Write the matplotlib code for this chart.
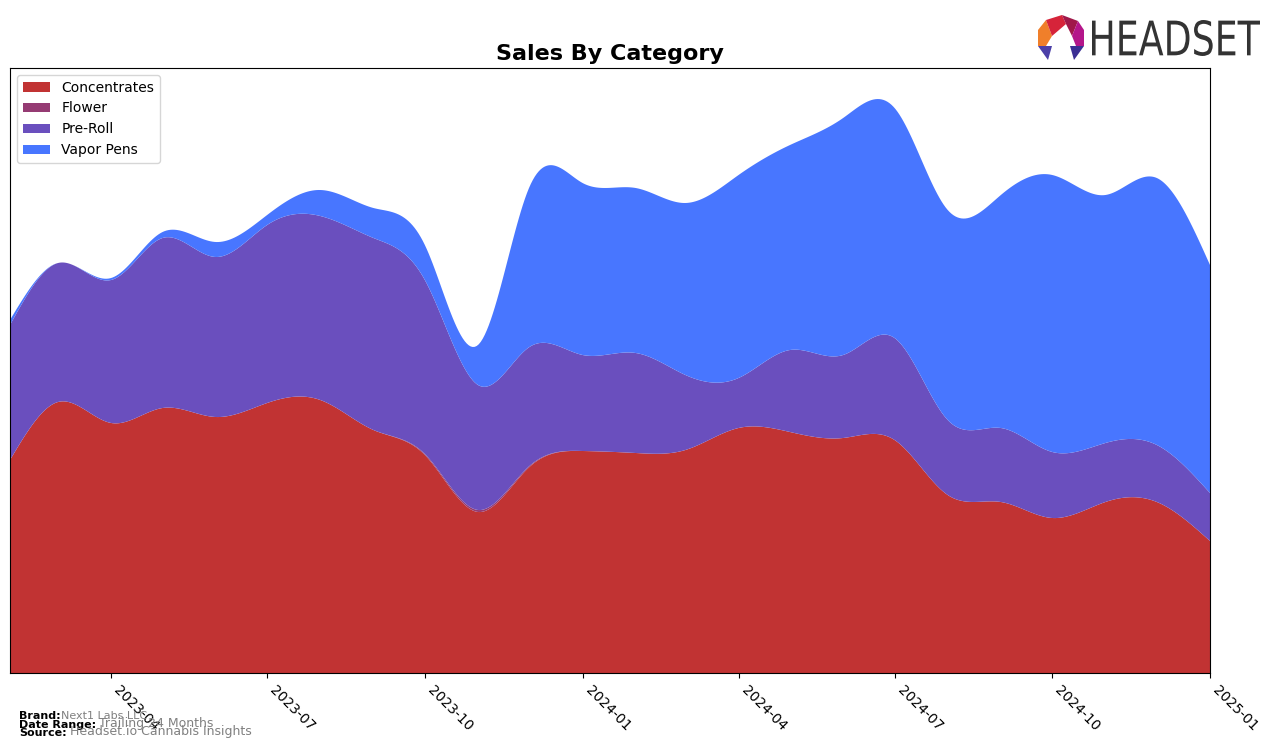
import numpy as np
import pandas as pd
import matplotlib
matplotlib.use("Agg")
import matplotlib.pyplot as plt
import matplotlib.dates as mdates
from matplotlib.patches import Polygon, PathPatch
from matplotlib.textpath import TextPath
from matplotlib.font_manager import FontProperties
from matplotlib.transforms import Affine2D

# monthly sales (arbitrary units)
months = pd.date_range("2023-02-01", "2025-01-01", freq="MS")
concentrates = [213, 271, 250, 265, 256, 270, 273, 243, 218, 161, 206, 222,
                220, 223, 245, 241, 235, 233, 178, 171, 155, 171, 171, 132]
flower = [0, 0, 0, 0, 0, 0, 0, 0, 1, 2, 1, 0,
          0, 0, 0, 0, 0, 0, 0, 0, 0, 0, 0, 0]
pre_roll = [135, 139, 143, 170, 160, 178, 184, 192, 174, 125, 119, 96,
            100, 75, 50, 82, 83, 102, 75, 74, 66, 59, 57, 48]
vapor_pens = [5, 0, 2, 6, 15, 10, 26, 30, 35, 40, 160, 172,
              165, 172, 203, 205, 237, 230, 210, 233, 277, 248, 267, 228]

labels = ["Concentrates", "Flower", "Pre-Roll", "Vapor Pens"]
colors = ["#c13333", "#953b73", "#6a4fbe", "#4876ff"]


def natural_spline(x, y, xs):
    # plain natural cubic spline, just for smooth display
    x = np.asarray(x, float)
    y = np.asarray(y, float)
    n = len(x)
    h = np.diff(x)
    A = np.zeros((n, n))
    b = np.zeros(n)
    A[0, 0] = 1
    A[-1, -1] = 1
    for i in range(1, n - 1):
        A[i, i - 1] = h[i - 1]
        A[i, i] = 2 * (h[i - 1] + h[i])
        A[i, i + 1] = h[i]
        b[i] = 3 * ((y[i + 1] - y[i]) / h[i] - (y[i] - y[i - 1]) / h[i - 1])
    c = np.linalg.solve(A, b)
    idx = np.clip(np.searchsorted(x, xs) - 1, 0, n - 2)
    dx = xs - x[idx]
    bb = (y[idx + 1] - y[idx]) / h[idx] - h[idx] * (2 * c[idx] + c[idx + 1]) / 3
    d = (c[idx + 1] - c[idx]) / (3 * h[idx])
    return y[idx] + bb * dx + c[idx] * dx ** 2 + d * dx ** 3


xnum = mdates.date2num(months)
xs = np.linspace(xnum[0], xnum[-1], 600)
series = [concentrates, flower, pre_roll, vapor_pens]
smooth = [np.clip(natural_spline(xnum, s, xs), 0, None) for s in series]

fig = plt.figure(figsize=(12.76, 7.49), dpi=100)
ax = fig.add_axes([10 / 1276, 1 - 673 / 749, 1200 / 1276, 605 / 749])
ax.stackplot(mdates.num2date(xs), *smooth, labels=labels, colors=colors)

ax.set_xlim(months[0], months[-1])
ax.set_ylim(0, 605)
ax.set_yticks([])
ticks = pd.date_range("2023-04-01", "2025-01-01", freq="3MS")
ax.set_xticks(ticks)
ax.set_xticklabels([t.strftime("%Y-%m") for t in ticks], rotation=-45, ha="left",
                   fontsize=10)
ax.set_title("Sales By Category", fontsize=16, fontweight="bold", pad=6)
ax.legend(loc="upper left", fontsize=10)

# footer
fig.text(19 / 1276, 1 - 716 / 749, "Brand:", fontsize=8, fontweight="bold", va="center")
fig.text(61 / 1276, 1 - 716 / 749, "Next1 Labs LLC", fontsize=8, color="gray", va="center")
fig.text(19 / 1276, 1 - 725 / 749, "Date Range:", fontsize=8, fontweight="bold", va="center")
fig.text(99 / 1276, 1 - 724 / 749, "Trailing 24 Months", fontsize=9, color="gray", va="center")
fig.text(19 / 1276, 1 - 733 / 749, "Source:", fontsize=8, fontweight="bold", va="center")
fig.text(70 / 1276, 1 - 732 / 749, "Headset.io Cannabis Insights", fontsize=9, color="gray", va="center")

# logo, drawn in figure pixels (y down)
lax = fig.add_axes([1030 / 1276, 1 - 68 / 749, 246 / 1276, 68 / 749])
lax.set_xlim(1030, 1276)
lax.set_ylim(68, 0)
lax.axis("off")
pieces = [
    ([(1038, 30), (1046, 20), (1052, 36), (1046, 46), (1038, 46)], "#f07f2a"),
    ([(1046, 20), (1062, 15), (1066, 24), (1052, 36)], "#d6243a"),
    ([(1062, 15), (1078, 21), (1072, 36), (1066, 24)], "#a0184a"),
    ([(1078, 21), (1084, 30), (1084, 46), (1076, 46), (1072, 36)], "#b4168a"),
    ([(1038, 46), (1052, 46), (1048, 60)], "#4b3fa8"),
    ([(1070, 46), (1084, 46), (1074, 60)], "#3b2f94"),
]
for pts, col in pieces:
    lax.add_patch(Polygon(pts, closed=True, color=col, lw=0))
tp = TextPath((0, 0), "HEADSET", size=10, prop=FontProperties(family="DejaVu Sans"))
ext = tp.get_extents()
sx = 168 / ext.width
sy = 36 / ext.height
tr = Affine2D().translate(-ext.x0, -ext.y0).scale(sx, -sy).translate(1092, 56)
lax.add_patch(PathPatch(tr.transform_path(tp), color="#333333", lw=0))

fig.savefig("out.png", dpi=100)
